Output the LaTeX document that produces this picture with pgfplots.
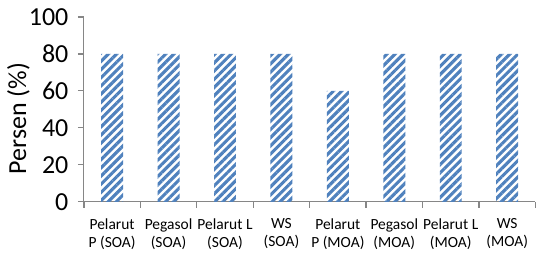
\documentclass[border=0pt]{standalone}
\usepackage{fontspec}
\setmainfont{Carlito}
\usepackage{pgfplots}
\pgfplotsset{compat=1.18}
\usetikzlibrary{patterns.meta}
\definecolor{barblue}{HTML}{4F81BD}
\definecolor{axgray}{HTML}{868686}
\begin{document}
\begin{tikzpicture}
\begin{axis}[
  scale only axis,
  width=452pt, height=185pt,
  xmin=-0.5, xmax=7.5,
  ymin=0, ymax=100,
  ytick={0,20,40,60,80,100},
  xtick={-0.5,0.5,1.5,2.5,3.5,4.5,5.5,6.5,7.5},
  x tick label as interval,
  xticklabels={{Pelarut\\P (SOA)},{Pegasol\\(SOA)},{Pelarut L\\(SOA)},{WS\\(SOA)},{Pelarut\\P (MOA)},{Pegasol\\(MOA)},{Pelarut L\\(MOA)},{WS\\(MOA)}},
  xticklabel style={align=center, font=\fontsize{15.5}{18}\selectfont, yshift=-7pt},
  yticklabel style={font=\fontsize{26}{26}\selectfont, xshift=-6pt},
  /pgf/number format/assume math mode=true,
  axis x line*=bottom,
  axis y line*=left,
  tick align=outside,
  major tick length=6pt,
  tick style={axgray, line width=1.2pt},
  axis line style={draw=axgray, line width=1pt},
  ylabel={Persen (\%)},
  ylabel style={font=\fontsize{26}{26}\selectfont, at={(axis description cs:-0.145,0.45)}, anchor=center},
  clip=false,
]
\addplot[ybar, bar width=22pt, draw=none, pattern={Lines[angle=45, distance=5.8pt, line width=3.1pt]}, pattern color=barblue]
  coordinates {(0,80) (1,80) (2,80) (3,80) (4,60) (5,80) (6,80) (7,80)};
\coordinate (bl) at (rel axis cs:0,0);
\coordinate (tr) at (rel axis cs:1,1);
\end{axis}
\path ([shift={(-84pt,-49pt)}]bl) rectangle ([shift={(0pt,17pt)}]tr);
\end{tikzpicture}
\end{document}
